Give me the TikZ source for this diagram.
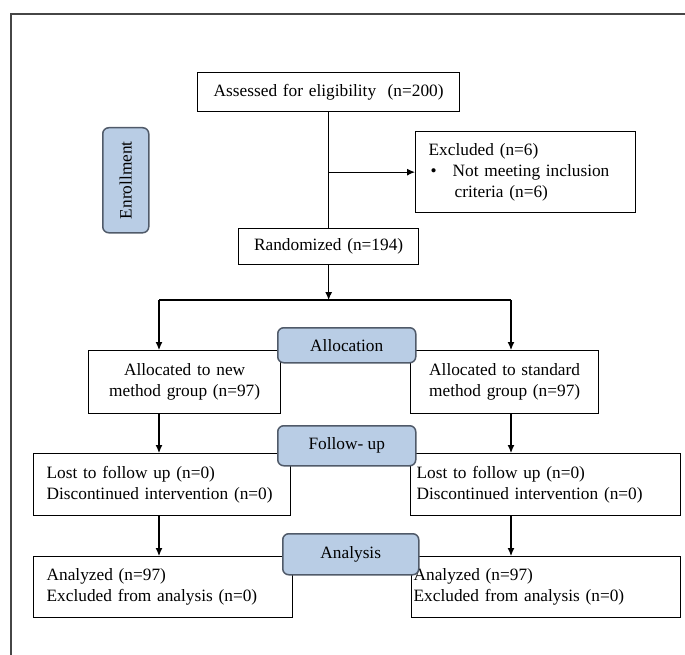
\documentclass[tikz,border=0pt]{standalone}
\usepackage{fontspec}
\setmainfont{Liberation Serif}
\usetikzlibrary{arrows.meta}
\definecolor{labfill}{RGB}{185,205,229}
\definecolor{labdraw}{RGB}{80,90,105}
\definecolor{framec}{RGB}{70,70,70}
\begin{document}
\begin{tikzpicture}[x=1pt,y=-1pt,
  every node/.style={font=\fontsize{17.3}{21}\selectfont},
  box/.style={draw=black, line width=1.3pt, fill=white, anchor=north west, inner ysep=0pt},
  cbox/.style={box, align=center, inner xsep=0pt},
  lbox/.style={box, align=left},
  lab/.style={draw=labdraw, line width=1.5pt, fill=labfill, rounded corners=6pt, anchor=north west, inner sep=0pt, align=center},
  arr/.style={-{Latex[length=8pt,width=7pt]}, line width=1.1pt},
  ln/.style={line width=1.1pt}]
\useasboundingbox (0,0) rectangle (685,655);
\draw[framec, line width=1.8pt] (11,655) -- (11,14) -- (685,14);

% boxes
\node[cbox, text width=262pt, minimum height=39pt] (assess) at (197,72) {Assessed for eligibility~~(n=200)};
\node[lbox, inner xsep=0pt, text width=220pt, minimum height=81pt] (excl) at (415,131)
  {\hspace*{13pt}Excluded (n=6)\\
   \hspace*{15pt}\textbullet\hspace{16pt}\makebox[168pt][s]{Not meeting inclusion}\\
   \hspace*{39pt}criteria (n=6)};
\node[cbox, text width=180pt, minimum height=36pt] (rand) at (238,228) {Randomized (n=194)};
\node[cbox, text width=192pt, minimum height=63pt] (allocL) at (88,350) {Allocated to new\\method group (n=97)};
\node[cbox, text width=188pt, minimum height=63pt] (allocR) at (410,350) {Allocated to standard\\method group (n=97)};
\node[lbox, inner xsep=13pt, text width=231pt, minimum height=62pt] (lostL) at (33,453) {Lost to follow up (n=0)\\Discontinued intervention (n=0)};
\node[lbox, inner xsep=6pt, text width=258pt, minimum height=62pt] (lostR) at (410,453) {Lost to follow up (n=0)\\Discontinued intervention (n=0)};
\node[lbox, inner xsep=13pt, text width=233pt, minimum height=61pt] (anaL) at (33,556) {Analyzed (n=97)\\Excluded from analysis (n=0)};
\node[lbox, inner xsep=2pt, text width=265pt, minimum height=61pt] (anaR) at (411,556) {Analyzed (n=97)\\Excluded from analysis (n=0)};

% stage labels
\node[lab, minimum width=46pt, minimum height=105pt] (enroll) at (102,127) {\rotatebox{90}{Enrollment}};
\node[lab, minimum width=138pt, minimum height=35pt] (alloc) at (277,327) {Allocation};
\node[lab, minimum width=138pt, minimum height=40pt] (fu) at (277,425) {Follow- up};
\node[lab, minimum width=136pt, minimum height=41pt] (ana) at (282,533) {Analysis};

% connectors
\coordinate (jL) at (159,300);
\coordinate (jR) at (511,300);
\draw[ln] (assess.south) -- (rand.north);
\draw[arr] (assess.south |- excl.west) -- (excl.west);
\draw[arr] (rand.south) -- (rand.south |- jL);
\draw[ln] (jL) -- (jR);
\draw[arr] (jL) -- (jL |- allocL.north);
\draw[arr] (jR) -- (jR |- allocR.north);
\draw[arr] (jL |- allocL.south) -- (jL |- lostL.north);
\draw[arr] (jR |- allocR.south) -- (jR |- lostR.north);
\draw[arr] (jL |- lostL.south) -- (jL |- anaL.north);
\draw[arr] (jR |- lostR.south) -- (jR |- anaR.north);
\end{tikzpicture}
\end{document}
